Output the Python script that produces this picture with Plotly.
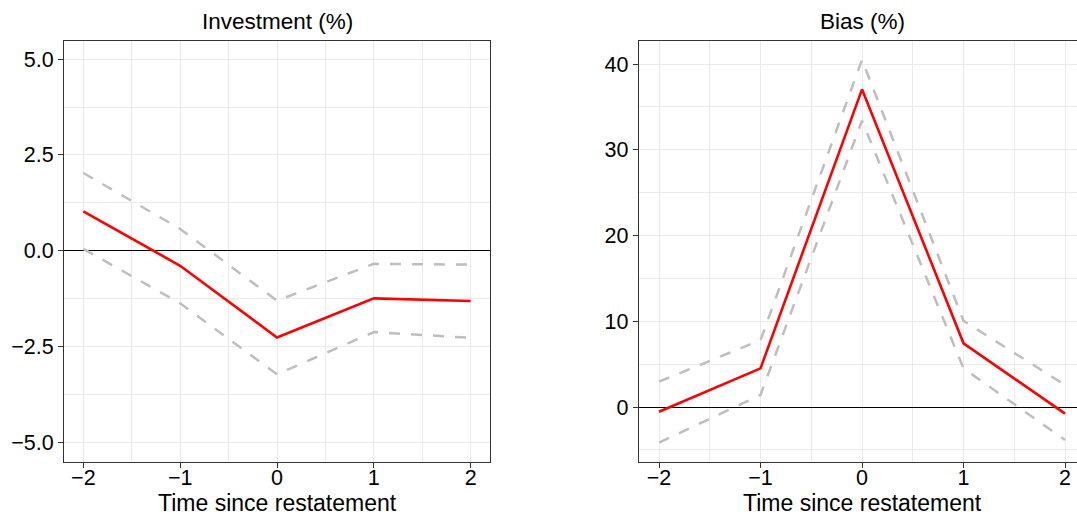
import plotly.graph_objects as go

time = [-2, -1, 0, 1, 2]

inv_est = [1.03, -0.39, -2.26, -1.24, -1.31]
inv_hi = [2.03, 0.57, -1.30, -0.34, -0.36]
inv_lo = [0.05, -1.37, -3.22, -2.12, -2.27]

bias_est = [-0.55, 4.51, 37.05, 7.43, -0.78]
bias_hi = [2.95, 7.8, 40.5, 10.04, 2.57]
bias_lo = [-4.16, 1.40, 33.4, 4.51, -3.85]

titles = ["Investment (%)", "Bias (%)"]
xlabel = "Time since restatement"
x_ticks = [-2, -1, 0, 1, 2]
x_ticktext = ["\u22122", "\u22121", "0", "1", "2"]

W, H = 1077, 517
FONT = "Liberation Sans, Arial, Helvetica, sans-serif"

def px(x):
    return x / W

def py(y):
    return (H - y) / H

fig = go.Figure()

dash_style = dict(color="#BEBEBE", width=2.5, dash="11px,11px")
red_style = dict(color="#FF0000", width=2.6)

for ax, (lo, hi, est) in zip(["", "2"], [(inv_lo, inv_hi, inv_est), (bias_lo, bias_hi, bias_est)]):
    fig.add_trace(go.Scatter(x=time, y=hi, mode="lines", line=dash_style, xaxis="x" + ax, yaxis="y" + ax, showlegend=False))
    fig.add_trace(go.Scatter(x=time, y=lo, mode="lines", line=dash_style, xaxis="x" + ax, yaxis="y" + ax, showlegend=False))
    fig.add_trace(go.Scatter(x=time, y=est, mode="lines", line=red_style, xaxis="x" + ax, yaxis="y" + ax, showlegend=False))

ydom = [py(461.7), py(40.7)]
common_axis = dict(
    showgrid=True, gridcolor="#EBEBEB", gridwidth=1.1,
    showline=True, linecolor="#333333", linewidth=1.1,
    ticks="outside", ticklen=5, tickwidth=1.1, tickcolor="#333333",
    tickfont=dict(family=FONT, size=21.5, color="black"),
)

xaxis_common = dict(
    common_axis, tickvals=x_ticks, ticktext=x_ticktext, zeroline=False,
    ticklabelstandoff=-9,
    minor=dict(tickvals=[-1.5, -0.5, 0.5, 1.5], showgrid=True, gridcolor="#EBEBEB", gridwidth=0.55, ticks=""),
)

fig.update_layout(
    width=W, height=H,
    margin=dict(l=0, r=0, t=0, b=0),
    paper_bgcolor="white", plot_bgcolor="white",
    xaxis=dict(xaxis_common, domain=[px(64), px(490)], range=[-2.2, 2.2], anchor="y", mirror=True),
    yaxis=dict(common_axis, domain=ydom, range=[-5.5, 5.48], anchor="x", mirror=True,
               tickvals=[-5, -2.5, 0, 2.5, 5], ticktext=["\u22125.0", "\u22122.5", "0.0", "2.5", "5.0"],
               zeroline=True, zerolinecolor="black", zerolinewidth=1.1,
               minor=dict(tickvals=[-3.75, -1.25, 1.25, 3.75], showgrid=True, gridcolor="#EBEBEB", gridwidth=0.55, ticks="")),
    xaxis2=dict(xaxis_common, domain=[px(638.7), 1.0], range=[-2.2, 2.118], anchor="y2", mirror=True),
    yaxis2=dict(common_axis, domain=ydom, range=[-6.38, 42.72], anchor="x2", mirror=False,
                tickvals=[0, 10, 20, 30, 40], ticktext=["0", "10", "20", "30", "40"],
                zeroline=True, zerolinecolor="black", zerolinewidth=1.1,
                minor=dict(tickvals=[-5, 5, 15, 25, 35], showgrid=True, gridcolor="#EBEBEB", gridwidth=0.55, ticks="")),
)

annotations = []
for cx, t in zip([277, 862], titles):
    annotations.append(dict(x=px(cx), y=py(21), xref="paper", yref="paper", text=t, showarrow=False,
                            xanchor="center", yanchor="middle", font=dict(family=FONT, size=22.5, color="black")))
    annotations.append(dict(x=px(cx), y=py(503), xref="paper", yref="paper", text=xlabel, showarrow=False,
                            xanchor="center", yanchor="middle", font=dict(family=FONT, size=23, color="black")))
fig.update_layout(annotations=annotations)

fig.write_html("out.html")
